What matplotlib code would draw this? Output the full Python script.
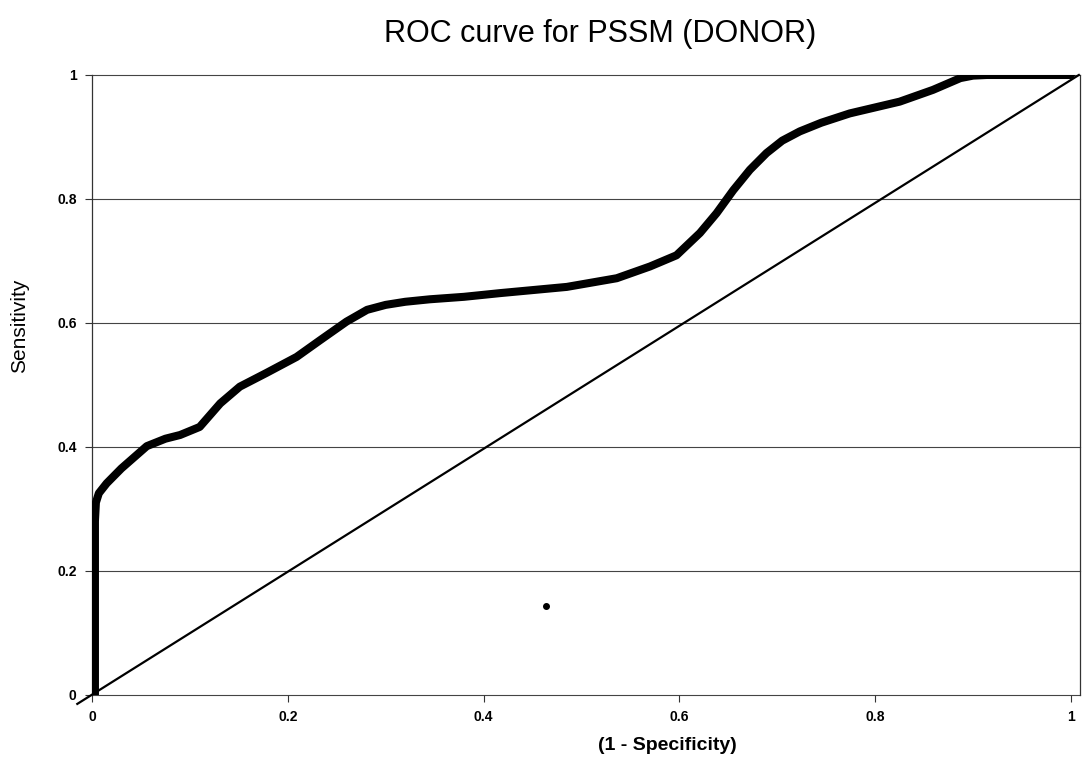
import matplotlib
matplotlib.use("Agg")
import matplotlib.pyplot as plt

# ROC curve
fpr = [0.003, 0.003, 0.004, 0.007, 0.015, 0.030, 0.056, 0.075, 0.090, 0.110, 0.131,
       0.151, 0.178, 0.209, 0.233, 0.260, 0.281, 0.300, 0.320, 0.345, 0.380, 0.417, 0.485,
       0.536, 0.570, 0.597, 0.621, 0.638, 0.655, 0.672, 0.689, 0.705, 0.723, 0.745, 0.774,
       0.825, 0.859, 0.887, 0.900, 0.914, 0.95, 1.0]
tpr = [0.0, 0.28, 0.31, 0.325, 0.341, 0.365, 0.401, 0.413, 0.419, 0.432, 0.470,
       0.497, 0.519, 0.545, 0.572, 0.602, 0.621, 0.629, 0.634, 0.638, 0.642, 0.648, 0.658,
       0.672, 0.691, 0.709, 0.745, 0.777, 0.814, 0.847, 0.874, 0.894, 0.909, 0.923, 0.938,
       0.957, 0.976, 0.995, 0.999, 1.0, 1.0, 1.0]
diag_x = [-0.015, 1.008]
diag_y = [-0.015, 1.0]
point_x = [0.464]
point_y = [0.143]

xticks = [0, 0.2, 0.4, 0.6, 0.8, 1]
yticks = [0, 0.2, 0.4, 0.6, 0.8, 1]
xtick_labels = ["0", "0.2", "0.4", "0.6", "0.8", "1"]
ytick_labels = ["0", "0.2", "0.4", "0.6", "0.8", "1"]

plt.rcParams['font.family'] = ['Liberation Sans', 'DejaVu Sans']

fig = plt.figure(figsize=(10.85, 7.64), dpi=100)
W, H = 1085, 764
left, right, bottom, top = 92, 1080, 694.6, 75
ax = fig.add_axes([left / W, (H - bottom) / H, (right - left) / W, (bottom - top) / H])
ax.set_xlim(0, (right - left) / 979.0)
ax.set_ylim(0, 1)

for yv in yticks:
    ax.axhline(yv, color='#444444', lw=0.8, zorder=1, clip_on=False)

ax.plot(diag_x, diag_y, color='black', lw=1.6, clip_on=False, zorder=3)
ax.plot(fpr, tpr, color='black', lw=5.8, solid_joinstyle='round',
        solid_capstyle='round', zorder=4)
ax.plot(point_x, point_y, 'o', color='black', ms=4, zorder=5)

for s in ['left', 'right']:
    ax.spines[s].set_color('#333333')
    ax.spines[s].set_linewidth(0.9)
ax.spines['top'].set_visible(False)
ax.spines['bottom'].set_visible(False)

ax.set_xticks(xticks)
ax.set_xticklabels(xtick_labels)
ax.set_yticks(yticks)
ax.set_yticklabels(ytick_labels)
ax.tick_params(axis='both', length=5, width=0.8, color='#333333', labelsize=10, pad=6)
for lab in ax.get_xticklabels() + ax.get_yticklabels():
    lab.set_fontweight('bold')

fig.text(600 / W, 1 - 34 / H, "ROC curve for PSSM (DONOR)", ha='center', va='center',
         fontsize=22)
fig.text(667 / W, 1 - 746 / H, "(1 - Specificity)", ha='center', va='center',
         fontsize=14, fontweight='bold')
fig.text(20 / W, 1 - 326 / H, "Sensitivity", ha='center', va='center',
         rotation=90, fontsize=15)

fig.savefig("out.png", dpi=100)
